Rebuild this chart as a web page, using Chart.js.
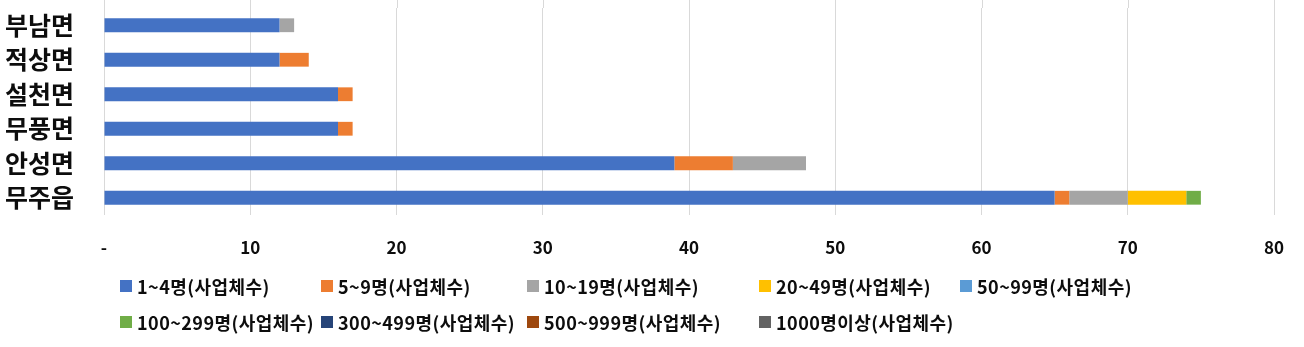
<!DOCTYPE html>
<html>
<head>
<meta charset="utf-8">
<script src="https://cdn.jsdelivr.net/npm/chart.js@4/dist/chart.umd.min.js"></script>
<style>
  html, body { margin: 0; padding: 0; background: #fff; }
  #wrap { position: relative; width: 1304px; height: 347px; }
  #c { position: absolute; left: 0; top: 0; }
  #legend {
    position: absolute; left: 120px; top: 268px;
    display: grid;
    grid-template-columns: 201px 206px 232px 201px auto;
    grid-auto-rows: 36px;
    font-family: "Noto Sans CJK KR", "Noto Sans", sans-serif;
    font-weight: bold; font-size: 18px; letter-spacing: 0.45px; color: #0d0d0d;
  }
  .item { display: flex; align-items: center; white-space: nowrap; }
  .box { width: 12px; height: 12px; margin-right: 5px; flex: none; }
</style>
</head>
<body>
<div id="wrap">
  <canvas id="c" width="1304" height="347"></canvas>
  <div id="legend"></div>
</div>
<script>
const categories = ['부남면', '적상면', '설천면', '무풍면', '안성면', '무주읍'];
const seriesNames = ['1~4명(사업체수)', '5~9명(사업체수)', '10~19명(사업체수)', '20~49명(사업체수)', '50~99명(사업체수)',
  '100~299명(사업체수)', '300~499명(사업체수)', '500~999명(사업체수)', '1000명이상(사업체수)'];
const s1to4 = [12, 12, 16, 16, 39, 65];
const s5to9 = [0, 2, 1, 1, 4, 1];
const s10to19 = [1, 0, 0, 0, 5, 4];
const s20to49 = [0, 0, 0, 0, 0, 4];
const s50to99 = [0, 0, 0, 0, 0, 0];
const s100to299 = [0, 0, 0, 0, 0, 1];
const s300to499 = [0, 0, 0, 0, 0, 0];
const s500to999 = [0, 0, 0, 0, 0, 0];
const s1000plus = [0, 0, 0, 0, 0, 0];
const xTicks = [0, 10, 20, 30, 40, 50, 60, 70, 80];

const colors = ['#4472C4', '#ED7D31', '#A5A5A5', '#FFC000', '#5B9BD5', '#70AD47', '#264478', '#9E480E', '#636363'];
const allSeries = [s1to4, s5to9, s10to19, s20to49, s50to99, s100to299, s300to499, s500to999, s1000plus];

const datasets = allSeries.map((d, i) => ({
  label: seriesNames[i],
  data: d,
  backgroundColor: colors[i],
  borderWidth: 0,
  barPercentage: 0.4,
  categoryPercentage: 1.0
}));

const gridTopExt = {
  id: 'gridTopExt',
  beforeDatasetsDraw(chart) {
    const ctx = chart.ctx, xs = chart.scales.x, area = chart.chartArea;
    ctx.save();
    ctx.strokeStyle = '#d9d9d9';
    ctx.lineWidth = 1;
    xs.ticks.forEach(t => {
      const px = Math.round(xs.getPixelForValue(t.value)) + 0.5;
      ctx.beginPath();
      ctx.moveTo(px, 0);
      ctx.lineTo(px, area.top);
      ctx.stroke();
    });
    ctx.restore();
  }
};

const chart = new Chart(document.getElementById('c'), {
  type: 'bar',
  data: { labels: categories, datasets },
  options: {
    indexAxis: 'y',
    responsive: false,
    animation: false,
    layout: { padding: { top: 8, right: 30, left: 5, bottom: 0 } },
    plugins: { legend: { display: false }, tooltip: { enabled: false } },
    scales: {
      x: {
        stacked: true,
        min: 0, max: 80,
        afterBuildTicks(scale) { scale.ticks = xTicks.map(v => ({ value: v })); },
        afterFit(scale) { scale.height = 132; scale.paddingRight = 0; scale.paddingLeft = 0; },
        grid: { color: '#d9d9d9', lineWidth: 1, drawTicks: false },
        border: { display: false },
        ticks: {
          padding: 22,
          color: '#0d0d0d',
          font: { family: '"Noto Sans CJK KR", "Noto Sans", sans-serif', size: 17, weight: 'bold' },
          callback: v => (v === 0 ? '-' : String(v))
        }
      },
      y: {
        stacked: true,
        afterFit(scale) { scale.width = 99; scale.paddingTop = 0; scale.paddingBottom = 0; },
        grid: { display: false, drawTicks: false },
        border: { display: false },
        ticks: {
          autoSkip: false,
          padding: 0,
          crossAlign: 'far',
          color: '#0d0d0d',
          font: { family: '"Noto Sans CJK KR", "Noto Sans", sans-serif', size: 25, weight: 'bold' }
        }
      }
    }
  },
  plugins: [gridTopExt]
});

const leg = document.getElementById('legend');
seriesNames.forEach((name, i) => {
  const it = document.createElement('div');
  it.className = 'item';
  const b = document.createElement('span');
  b.className = 'box';
  b.style.background = colors[i];
  const t = document.createElement('span');
  t.textContent = name;
  it.appendChild(b); it.appendChild(t);
  leg.appendChild(it);
});
</script>
</body>
</html>
